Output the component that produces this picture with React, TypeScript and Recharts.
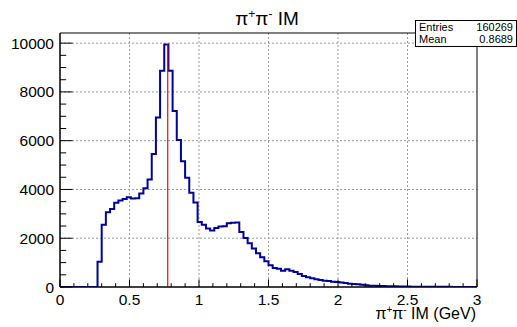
import React from "react";
import {
  CartesianGrid,
  Line,
  LineChart,
  ReferenceArea,
  ReferenceLine,
  XAxis,
  YAxis,
} from "recharts";

// 100 bins, 0 to 3 GeV
const BIN_WIDTH = 0.03;
const counts = [
  0, 0, 0, 0, 0, 0, 0, 0, 0, 1040,
  2550, 3070, 3200, 3450, 3545, 3610, 3680, 3630, 3640, 3830,
  4050, 4410, 5450, 6950, 8870, 9940, 8870, 7220, 6030, 5160,
  4480, 3870, 3470, 2670, 2550, 2400, 2320, 2420, 2480, 2490,
  2610, 2630, 2640, 2260, 2010, 1795, 1575, 1385, 1220, 1055,
  890, 780, 750, 670, 725, 670, 615, 535, 450, 400,
  355, 315, 290, 260, 245, 220, 205, 180, 165, 135,
  125, 110, 95, 70, 55, 50, 45, 40, 35, 30,
  28, 25, 20, 18, 15, 14, 12, 11, 10, 9,
  8, 7, 6, 6, 5, 5, 4, 4, 3, 3,
];
const xMajorTicks = [0, 0.5, 1, 1.5, 2, 2.5, 3];
const xTickLabels = ["0", "0.5", "1", "1.5", "2", "2.5", "3"];
const yMajorTicks = [0, 2000, 4000, 6000, 8000, 10000];
const yTickLabels = ["0", "2000", "4000", "6000", "8000", "10000"];
const rhoMass = 0.775;
const peakHeight = 9940;
const yMax = 10416;

// minor ticks: every 0.1 on x, every 500 on y
const xTicks = Array.from({ length: 31 }, (_, i) => i / 10);
const yTicks = Array.from({ length: 21 }, (_, i) => i * 500);

const data = counts.map((c, i) => ({ x: i * BIN_WIDTH, count: c }));
data.push({ x: 3, count: counts[counts.length - 1] });

const FONT = "'Liberation Sans', Arial, sans-serif";

const XTick = (props: any) => {
  const { x, y, payload } = props;
  const v = Number(payload.value);
  const idx = xMajorTicks.findIndex((t) => Math.abs(t - v) < 1e-6);
  const major = idx >= 0;
  return (
    <g>
      <line x1={x} y1={y} x2={x} y2={y - (major ? 7.6 : 3.8)} stroke="#000" />
      {major && (
        <text x={x} y={y + 18} textAnchor="middle" fontSize={15.5} fontFamily={FONT} fill="#000">
          {xTickLabels[idx]}
        </text>
      )}
    </g>
  );
};

const YTick = (props: any) => {
  const { x, y, payload } = props;
  const v = Number(payload.value);
  const idx = yMajorTicks.indexOf(v);
  const major = idx >= 0;
  return (
    <g>
      <line x1={x} y1={y} x2={x + (major ? 12.5 : 6.2)} y2={y} stroke="#000" />
      {major && (
        <text x={x - 6} y={y + 5.5} textAnchor="end" fontSize={15.5} fontFamily={FONT} fill="#000">
          {yTickLabels[idx]}
        </text>
      )}
    </g>
  );
};

export default function App() {
  return (
    <div style={{ position: "absolute", left: 0, top: 0, width: 517, height: 327, background: "#fff" }}>
      <LineChart
        width={517}
        height={327}
        data={data}
        margin={{ top: 33, right: 40, left: 0, bottom: 0 }}
      >
        <CartesianGrid
          stroke="#999"
          strokeDasharray="2 2"
          horizontalValues={[2000, 4000, 6000, 8000, 10000]}
          verticalValues={[0.5, 1, 1.5, 2, 2.5]}
        />
        <XAxis
          dataKey="x"
          type="number"
          domain={[0, 3]}
          ticks={xTicks}
          interval={0}
          tickLine={false}
          tickSize={0}
          tickMargin={0}
          tick={<XTick />}
          axisLine={{ stroke: "#000" }}
          height={40}
          allowDataOverflow
        />
        <YAxis
          type="number"
          domain={[0, yMax]}
          ticks={yTicks}
          interval={0}
          tickLine={false}
          tickSize={0}
          tickMargin={0}
          tick={<YTick />}
          axisLine={{ stroke: "#000" }}
          width={60}
          allowDataOverflow
        />
        <ReferenceArea x1={0} x2={3} y1={0} y2={yMax} fill="none" stroke="#000" strokeOpacity={1} fillOpacity={0} />
        <Line
          type="stepAfter"
          dataKey="count"
          stroke="#000099"
          strokeWidth={2}
          dot={false}
          activeDot={false}
          isAnimationActive={false}
        />
        <ReferenceLine
          segment={[
            { x: rhoMass, y: 0 },
            { x: rhoMass, y: peakHeight },
          ]}
          stroke="#ff0000"
          strokeWidth={1.2}
        />
      </LineChart>
      <svg
        width={517}
        height={327}
        style={{ position: "absolute", left: 0, top: 0, pointerEvents: "none" }}
        fontFamily={FONT}
      >
        <text x={267} y={25} textAnchor="middle" fontSize={19} fill="#000">
          π<tspan fontSize={12} dy={-7}>+</tspan>
          <tspan fontSize={19} dy={7}>π</tspan>
          <tspan fontSize={12} dy={-7}>-</tspan>
          <tspan fontSize={19} dy={7}> IM</tspan>
        </text>
        <rect x={415.5} y={20.5} width={101} height={26} fill="#fff" stroke="#000" />
        <text x={419} y={31} fontSize={11} fill="#000">Entries</text>
        <text x={513} y={31} fontSize={11} textAnchor="end" fill="#000">160269</text>
        <text x={419} y={43} fontSize={11} fill="#000">Mean</text>
        <text x={513} y={43} fontSize={11} textAnchor="end" fill="#000">0.8689</text>
        <text x={476} y={319} textAnchor="end" fontSize={16} fill="#000">
          π<tspan fontSize={10} dy={-6}>+</tspan>
          <tspan fontSize={16} dy={6}>π</tspan>
          <tspan fontSize={10} dy={-6}>-</tspan>
          <tspan fontSize={16} dy={6}> IM (GeV)</tspan>
        </text>
      </svg>
    </div>
  );
}
